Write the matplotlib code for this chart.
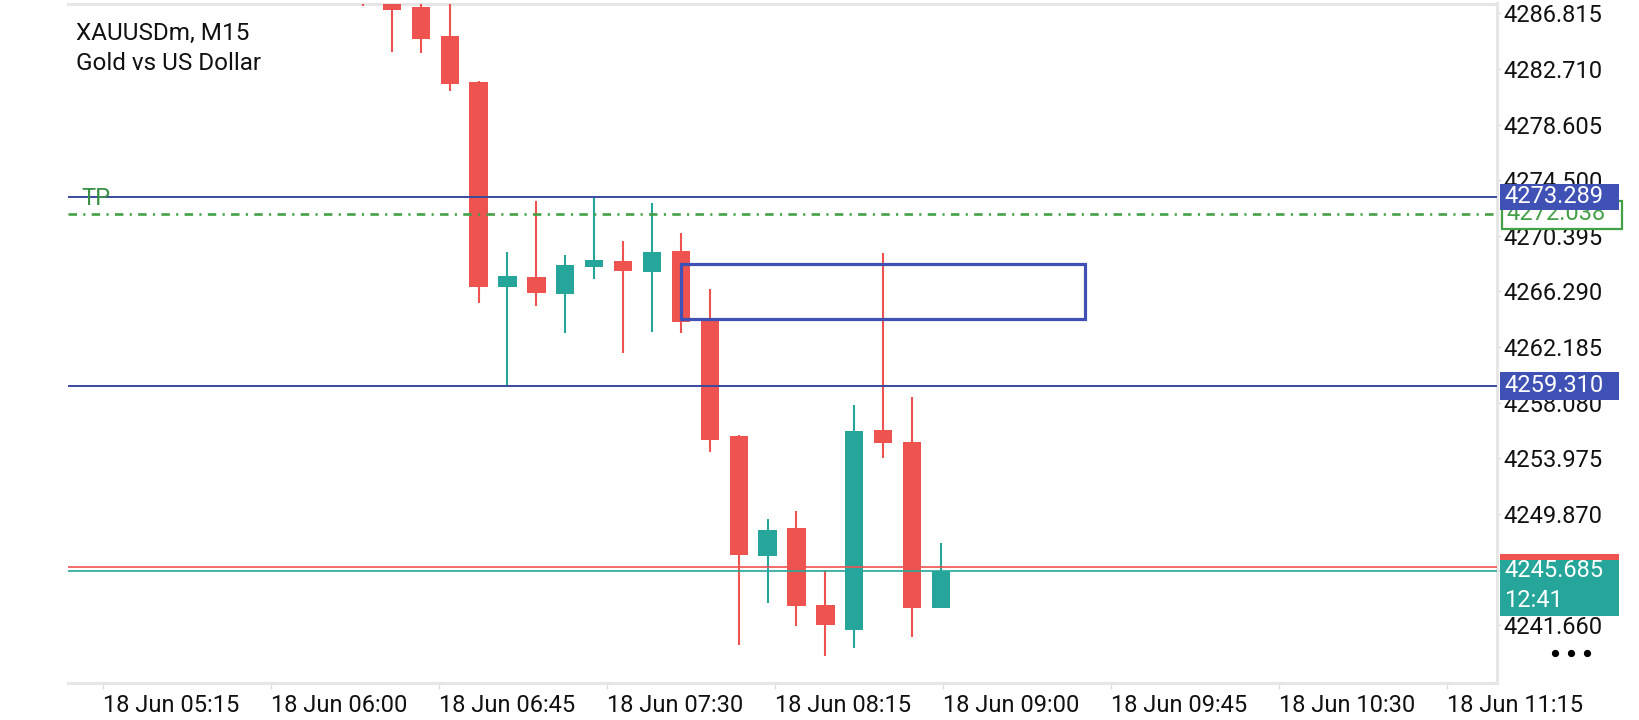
#!/usr/bin/env python3
# XAUUSDm M15 candle chart, mobile terminal look: price scale on the right,
# level lines with coloured price tags, one box zone and the TP line.

import matplotlib
matplotlib.use("Agg")
import matplotlib.pyplot as plt
import matplotlib.transforms as mtransforms
from matplotlib.lines import Line2D
from matplotlib.patches import Rectangle

plt.rcParams["font.family"] = ["Roboto", "DejaVu Sans"]

SYMBOL = "XAUUSDm, M15"
DESCRIPTION = "Gold vs US Dollar"

# candles, oldest first (the first few start above the visible range)
opens = [4289.50, 4288.60, 4287.30, 4285.14, 4281.74, 4266.64, 4267.35,
         4266.10, 4268.11, 4268.54, 4267.75, 4269.27, 4264.18, 4255.62,
         4246.78, 4248.83, 4243.15, 4241.32, 4256.06, 4255.18, 4242.93]
highs = [4290.50, 4289.00, 4288.00, 4288.20, 4281.80, 4269.18, 4272.96,
         4268.98, 4273.29, 4270.03, 4272.82, 4270.58, 4266.47, 4255.70,
         4249.50, 4250.08, 4245.73, 4257.91, 4269.13, 4258.50, 4247.75]
lows = [4287.35, 4283.96, 4283.86, 4281.10, 4265.41, 4259.31, 4265.23,
        4263.24, 4267.23, 4261.77, 4263.32, 4263.20, 4254.46, 4240.19,
        4243.27, 4241.62, 4239.38, 4239.97, 4254.02, 4240.81, 4242.93]
closes = [4288.30, 4287.08, 4284.94, 4281.57, 4266.59, 4267.43, 4266.19,
          4268.24, 4268.61, 4267.82, 4269.20, 4264.06, 4255.35, 4246.86,
          4248.68, 4243.10, 4241.67, 4255.99, 4255.12, 4242.90, 4245.685]

price_ticks = [4241.660, 4245.765, 4249.870, 4253.975, 4258.080, 4262.185,
               4266.290, 4270.395, 4274.500, 4278.605, 4282.710, 4286.815]
time_labels = ["18 Jun 05:15", "18 Jun 06:00", "18 Jun 06:45",
               "18 Jun 07:30", "18 Jun 08:15", "18 Jun 09:00",
               "18 Jun 09:45", "18 Jun 10:30", "18 Jun 11:15"]

upper_level = 4273.289
tp_level = 4272.038
lower_level = 4259.310
bid = 4245.685
ask = 4245.935
bar_timer = "12:41"

zone_left, zone_right = 11, 25          # candle index
zone_low, zone_high = 4264.25, 4268.31

UP = "#26A69A"
DOWN = "#EF5350"
BLUE = "#3F51B5"
LINE_BLUE = "#3A4A9F"
TP_GREEN = "#43A047"
TP_TEXT = "#3B8F47"
FRAME = "#E6E6E6"

# layout (pixels of a 1640x720 canvas)
W, H = 1640, 720
AX_L, AX_R, AX_T, AX_B = 68, 1497, 3.5, 683
YMIN, YMAX = 4237.39, 4287.54
X0_PX, STEP_PX = 363, 28.9              # pixel of candle 0, pixel per candle

fig = plt.figure(figsize=(W / 100, H / 100), dpi=100)
ax = fig.add_axes([AX_L / W, 1 - AX_B / H, (AX_R - AX_L) / W, (AX_B - AX_T) / H])
ax.set_xlim((AX_L - X0_PX) / STEP_PX, (AX_R - X0_PX) / STEP_PX)
ax.set_ylim(YMIN, YMAX)
ppu = (AX_B - AX_T) / (YMAX - YMIN)     # pixels per price unit
span = AX_R - AX_L

# candles
xs = list(range(len(opens)))
cols = [UP if c >= o else DOWN for o, c in zip(opens, closes)]
ax.vlines(xs, lows, highs, colors=cols, linewidth=1.5, zorder=3)
ax.bar(xs, [abs(c - o) for o, c in zip(opens, closes)],
       bottom=[min(o, c) for o, c in zip(opens, closes)],
       width=0.63, color=cols, linewidth=0, zorder=4)

# level lines
ax.axhline(upper_level, color=LINE_BLUE, linewidth=1.4, zorder=5)
ax.axhline(lower_level, color=LINE_BLUE, linewidth=1.4, zorder=5)
ax.axhline(tp_level, color=TP_GREEN, linewidth=1.9, zorder=5,
           linestyle=(0, (3.2, 2.4, 0.8, 2.4)), dash_capstyle="butt")
ax.axhline(ask, color=DOWN, linewidth=1.2, zorder=5)
ax.axhline(bid, color=UP, linewidth=1.2, zorder=5)
ax.text((81 - X0_PX) / STEP_PX, upper_level - 2 / ppu, "TP", color=TP_TEXT,
        fontsize=17, ha="left", va="center", zorder=6)

ax.add_patch(Rectangle((zone_left, zone_low), zone_right - zone_left,
                       zone_high - zone_low, fill=False, edgecolor=BLUE,
                       linewidth=2.3, zorder=6))

# frame and axes
for side in ("top", "right", "bottom"):
    ax.spines[side].set_color(FRAME)
    ax.spines[side].set_linewidth(2.2)
ax.spines["left"].set_visible(False)

ax.yaxis.tick_right()
ax.set_yticks(price_ticks)
ax.set_yticklabels([f"{p:.3f}" for p in price_ticks])
ax.tick_params(axis="y", length=2.5, width=1, color="#cccccc", pad=2,
               labelsize=17, labelcolor="#111111")

tick_pos = [(103 - X0_PX) / STEP_PX + k * 168 / STEP_PX
            for k in range(len(time_labels))]
ax.set_xticks(tick_pos)
ax.set_xticklabels(time_labels)
ax.tick_params(axis="x", length=4, width=1, color="#dddddd", pad=4,
               labelsize=17, labelcolor="#111111")
for lab in ax.get_xticklabels():
    lab.set_ha("left")

title_x = (76 - AX_L) / span
ax.text(title_x, 1 - (33 - AX_T) / (AX_B - AX_T), SYMBOL,
        transform=ax.transAxes, fontsize=17.5, va="center", ha="left",
        color="#111111")
ax.text(title_x, 1 - (63 - AX_T) / (AX_B - AX_T), DESCRIPTION,
        transform=ax.transAxes, fontsize=17.5, va="center", ha="left",
        color="#111111")

# price tags on the scale
tr = mtransforms.blended_transform_factory(ax.transAxes, ax.transData)


def price_tag(price, text, fc, tc, ec=None, up_px=13, down_px=13,
              x0_px=1500, x1_px=1619, z=10):
    x0 = (x0_px - AX_L) / span
    w = (x1_px - x0_px) / span
    ax.add_patch(Rectangle((x0, price - down_px / ppu), w,
                           (up_px + down_px) / ppu, transform=tr,
                           facecolor=fc, edgecolor=ec or fc,
                           linewidth=1.6 if ec else 0, clip_on=False,
                           zorder=z))
    if text:
        ax.text(x0 + 4 / span, price, text, transform=tr, color=tc,
                fontsize=17, ha="left", va="center", clip_on=False,
                zorder=z + 0.5)


price_tag(tp_level, f"{tp_level:.3f}", "white", TP_GREEN, ec=TP_GREEN,
          up_px=13, down_px=15, x0_px=1502, x1_px=1622)
price_tag(upper_level, f"{upper_level:.3f}", BLUE, "white", z=12)
price_tag(lower_level, f"{lower_level:.3f}", BLUE, "white", up_px=14,
          down_px=14)
price_tag(ask, "", DOWN, "white", z=10)
price_tag(bid, f"{bid:.3f}", UP, "white", up_px=11, down_px=45, z=12)
ax.text((1504 - AX_L) / span, bid - 30 / ppu, bar_timer, transform=tr,
        color="white", fontsize=17, ha="left", va="center", clip_on=False,
        zorder=13)

# menu dots under the scale
fig.add_artist(Line2D([1555 / W, 1571 / W, 1587 / W], [1 - 653 / H] * 3,
                      linestyle="none", marker="o", markersize=4.2,
                      color="black"))

fig.savefig("out.png", dpi=100)
